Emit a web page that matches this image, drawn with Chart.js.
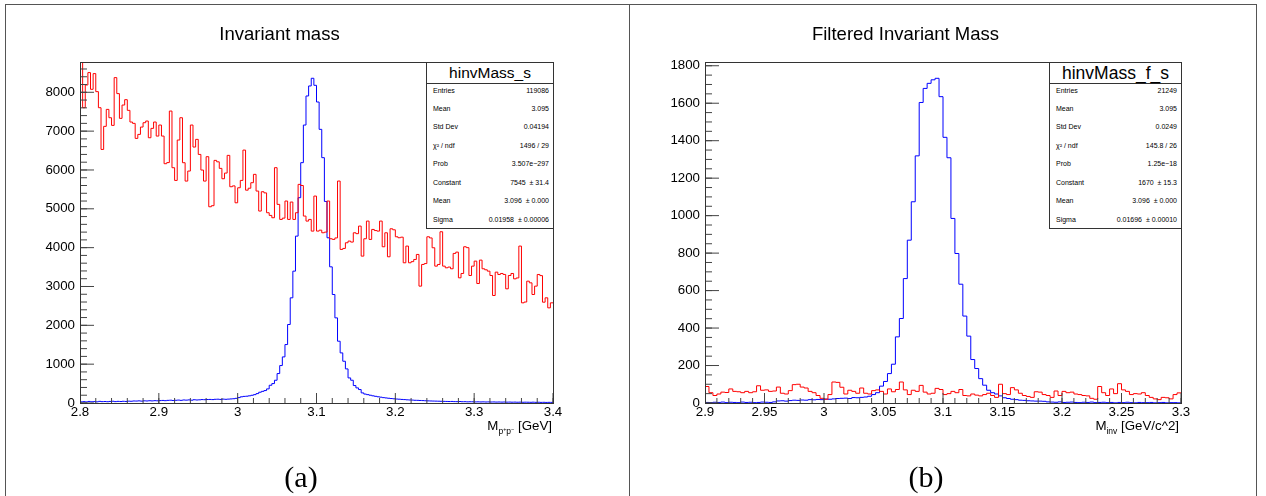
<!DOCTYPE html>
<html><head><meta charset="utf-8">
<script src="https://cdn.jsdelivr.net/npm/chart.js@4.4.1/dist/chart.umd.min.js"></script>
<style>
html,body{margin:0;padding:0;background:#fff;}
#page{position:relative;width:1266px;height:496px;overflow:hidden;font-family:'Liberation Sans',Arial,sans-serif;color:#000;}
.ln{position:absolute;background:#555;}
canvas{position:absolute;}
.stat{position:absolute;background:#fff;border:1px solid #333;box-sizing:border-box;z-index:2;}
.stat .hdr{position:absolute;left:0;right:0;top:0;height:20.5px;border-bottom:1px solid #333;text-align:center;line-height:20px;box-sizing:border-box;}
.stat .rows{position:absolute;left:0;right:0;top:18.6px;}
.stat .row{display:flex;justify-content:space-between;height:18.43px;line-height:18.43px;font-size:7px;padding:0 4px 0 6px;white-space:pre;}
.axt{position:absolute;font-size:13.3px;line-height:16px;white-space:nowrap;z-index:2;}
.axt .sub{font-size:8.5px;position:relative;top:3.5px;}
.axt .sup{font-size:5.5px;position:relative;top:-3px;}
.cap{position:absolute;font-family:'Liberation Serif','Times New Roman',serif;font-size:30px;line-height:30px;z-index:2;transform:translateX(-50%);}
</style></head><body>
<div id="page">
  <div class="ln" style="left:5px;top:4px;width:1252px;height:1px"></div>
  <div class="ln" style="left:5px;top:4px;width:1px;height:492px"></div>
  <div class="ln" style="left:629px;top:4px;width:1px;height:492px"></div>
  <div class="ln" style="left:1256px;top:4px;width:1px;height:492px"></div>
  <canvas id="cA" width="622" height="490" style="left:6px;top:6px;width:622px;height:490px"></canvas>
  <canvas id="cB" width="625" height="490" style="left:630px;top:6px;width:625px;height:490px"></canvas>
  <div class="stat" id="statA" style="left:426px;top:62px;width:128px;height:167px"></div>
  <div class="stat" id="statB" style="left:1049px;top:62px;width:133px;height:167px"></div>
  <div class="axt" style="right:714px;top:418px">M<span class="sub">p<span class="sup">+</span>p<span class="sup">−</span></span> [GeV]</div>
  <div class="axt" style="right:87px;top:418px">M<span class="sub">inv</span> [GeV/c^2]</div>
  <div class="cap" style="left:301px;top:462px">(a)</div>
  <div class="cap" style="left:926px;top:462px">(b)</div>
</div>
<script>
// ---------- data: panel (a) ----------
const xRangeA = [2.8, 3.4];
const yMaxA = 8780;
const xTicksA = [2.8, 2.9, 3, 3.1, 3.2, 3.3, 3.4];
const yTicksA = [0, 1000, 2000, 3000, 4000, 5000, 6000, 7000, 8000];
const titleA = 'Invariant mass';
const redA = [9000,7603,8189,8507,8077,8481,8017,7603,6529,7123,
 7560,7345,7148,8378,7966,7329,7672,7810,7535,7234,
 7200,6813,6916,7105,7217,7260,6830,7071,7234,6873,
 7157,6873,6161,6190,7517,6058,5731,6771,7345,6187,
 5714,5972,7157,6590,6788,6400,5998,5714,6342,5053,
 5080,6247,6210,6041,5774,5920,6376,5568,5590,5155,
 5542,5731,6512,5480,5530,5672,5887,5457,4942,5440,
 5410,4899,4830,4770,6059,5114,4727,4760,5200,4727,
 5174,4727,4899,5629,5600,4813,4684,4727,4426,5328,
 4426,4450,4383,4400,5200,4229,4212,4250,5715,3954,
 3980,4126,4169,4143,4383,4360,4555,3782,4229,4684,
 4212,4469,4440,4426,4684,4023,4383,3765,4486,4460,
 4280,4255,4270,3610,4040,3610,3640,3696,3825,3009,
 3567,3590,4280,4250,3997,3524,3567,4409,3524,3481,
 3500,3456,3851,3885,3223,3335,4023,4000,3283,3524,
 3653,3077,3679,3456,3430,3395,3283,2768,3369,3309,
 3335,3310,2940,3283,3335,3197,3220,4040,2579,2600,
 3137,3094,2794,3009,3309,3280,2596,2708,2450,2579];
const blueA = [30,35,28,40,32,36,30,42,35,38,33,40,45,36,42,38,44,40,
 48,45,52,50,55,48,56,52,58,54,60,57,
 62,66,60,68,72,65,70,75,68,78,74,80,72,84,78,82,88,85,90,
 92,88,95,98,92,100,
 95,100,105,110,120,140,160,170,175,185,199,
 215,242,277,300,320,363,457,500,586,758,964,1187,1505,2021,2708,3395,4297,5286,6188,7157,7905,8163,8361,
 8180,7750,7046,6317,5190,4254,3506,2794,2192,1591,1290,1075,878,646,586,449,389,346,260,
 230,215,200,185,172,160,150,138,130,122,115,108,
 102,98,92,88,82,78,75,70,68,65,
 62,58,55,52,50,48,46,44,42,40,
 38,40,36,35,38,33,34,30,32,31,
 28,30,27,29,26,28,25,27,24,26,
 23,25,22,24,21,23,20,22,19,21,
 20,18,21,17,19,16,18,15,17,16];
const statNameA = 'hinvMass_s';
const statLabelsA = ['Entries','Mean','Std Dev','χ² / ndf','Prob','Constant','Mean','Sigma'];
const statValuesA = ['119086','3.095','0.04194','1496 / 29','3.507e−297','7545  ± 31.4','3.096  ± 0.000','0.01958  ± 0.00006'];

// ---------- data: panel (b) ----------
const xRangeB = [2.9, 3.3];
const yMaxB = 1820;
const xTicksB = [2.9, 2.95, 3, 3.05, 3.1, 3.15, 3.2, 3.25, 3.3];
const yTicksB = [0, 200, 400, 600, 800, 1000, 1200, 1400, 1600, 1800];
const titleB = 'Filtered Invariant Mass';
const redB = [88,55,40,48,58,56,75,62,60,55,
 62,55,60,92,68,70,62,64,85,52,
 48,66,98,100,85,80,62,55,40,25,
 20,45,112,110,84,48,68,62,52,80,
 52,48,66,70,62,48,75,60,72,112,
 70,45,68,62,94,58,48,52,78,72,
 45,50,62,55,72,40,38,48,42,38,
 45,52,40,30,100,50,45,82,70,52,
 40,35,30,60,58,45,40,30,64,40,
 62,55,58,48,45,40,38,25,20,88,
 55,40,75,50,103,70,62,45,50,48,
 55,40,30,22,18,30,28,22,45,54];
const blueB = [3,2,4,3,5,2,4,3,2,5,3,4,2,3,5,4,3,6,
 11,12,10,13,15,14,16,15,18,17,19,18,21,20,22,24,25,26,24,29,28,30,
 32,36,45,55,90,
 115,157,207,353,451,664,869,1074,1319,1604,1679,1706,1725,1733,
 1635,1418,1309,985,798,634,464,357,232,184,130,95,68,
 55,48,38,28,24,20,18,15,14,12,11,10,10,9,6,
 5,4,6,3,4,5,3,2,4,3,5,2,3,4,2,3,1,3,2,4,2,1,3,2,2,3,1,2,3,1,2,2,1];
const statNameB = 'hinvMass_f_s';
const statLabelsB = ['Entries','Mean','Std Dev','χ² / ndf','Prob','Constant','Mean','Sigma'];
const statValuesB = ['21249','3.095','0.0249','145.8 / 26','1.25e−18','1670  ± 15.3','3.096  ± 0.000','0.01696  ± 0.00010'];

// ---------- helpers ----------
function histPoints(vals, range) {
  const w = (range[1] - range[0]) / vals.length;
  const pts = vals.map((v, i) => ({x: range[0] + i * w, y: v}));
  pts.push({x: range[1], y: vals[vals.length - 1]});
  return pts;
}
function minorValues(min, max, step) {
  const out = [];
  const n = Math.floor((max - min) / step + 1e-9);
  for (let i = 0; i <= n; i++) out.push(min + i * step);
  return out;
}
function buildStat(id, name, labels, values, hdrSize) {
  const box = document.getElementById(id);
  const hdr = document.createElement('div');
  hdr.className = 'hdr'; hdr.style.fontSize = hdrSize + 'px'; hdr.textContent = name;
  box.appendChild(hdr);
  const rows = document.createElement('div'); rows.className = 'rows';
  labels.forEach((l, i) => {
    const r = document.createElement('div'); r.className = 'row';
    const a = document.createElement('span'); a.textContent = l;
    const b = document.createElement('span'); b.textContent = values[i];
    r.appendChild(a); r.appendChild(b); rows.appendChild(r);
  });
  box.appendChild(rows);
}
buildStat('statA', statNameA, statLabelsA, statValuesA, 15.5);
buildStat('statB', statNameB, statLabelsB, statValuesB, 17.5);

// frame around the plot area
const framePlugin = {
  id: 'rootFrame',
  afterDraw(chart) {
    const {ctx, chartArea: a} = chart;
    const L = Math.floor(a.left), R = Math.floor(a.right);
    const T = Math.floor(a.top), B = Math.floor(a.bottom);
    ctx.save();
    ctx.fillStyle = '#333';
    ctx.fillRect(L, T, R - L + 1, 1);
    ctx.fillRect(L, B, R - L + 1, 1);
    ctx.fillRect(L, T, 1, B - T + 1);
    ctx.fillRect(R, T, 1, B - T + 1);
    ctx.restore();
  }
};

// inward ROOT-style tick marks, placed through the chart's scales as line-shaped points,
// clipped to the plot area so only the inner half shows
function tickSet(points, rotation, radius) {
  return {data: points, showLine: false, pointStyle: 'line', pointRotation: rotation,
    pointRadius: radius, pointHoverRadius: radius, pointBorderColor: '#444', pointBorderWidth: 1,
    borderColor: '#444', borderWidth: 1, clip: 0, xAxisID: 'x', yAxisID: 'y'};
}

function makeChart(id, cfg) {
  const font = {family: "'Liberation Sans', Arial, sans-serif", size: 13.3};
  const x0 = cfg.xRange[0];
  const xMinorPts = minorValues(cfg.xRange[0], cfg.xRange[1], cfg.xMinor).map(v => ({x: v, y: 0}));
  const yMinorPts = minorValues(0, cfg.yMax, cfg.yMinor).map(v => ({x: x0, y: v}));
  return new Chart(document.getElementById(id), {
    type: 'line',
    data: {datasets: [
      tickSet(cfg.xTicks.map(v => ({x: v, y: 0})), 90, 10),
      tickSet(xMinorPts, 90, 5),
      tickSet(cfg.yTicks.map(v => ({x: x0, y: v})), 0, 14),
      tickSet(yMinorPts, 0, 7),
      {data: histPoints(cfg.red, cfg.xRange), borderColor: '#ff0000', borderWidth: 1, pointRadius: 0, stepped: true, fill: false, tension: 0, xAxisID: 'x', yAxisID: 'y'},
      {data: histPoints(cfg.blue, cfg.xRange), borderColor: '#0000ff', borderWidth: 1, pointRadius: 0, stepped: true, fill: false, tension: 0, xAxisID: 'x', yAxisID: 'y'}
    ]},
    options: {
      responsive: false, animation: false, devicePixelRatio: 1,
      layout: {padding: {left: 0, right: cfg.padRight, top: 0, bottom: 0}},
      plugins: {
        legend: {display: false}, tooltip: {enabled: false},
        title: {display: true, text: cfg.title, color: '#000',
          font: {family: "'Liberation Sans', Arial, sans-serif", size: 18.5, weight: 'normal', lineHeight: 1.2},
          padding: {top: 18.2, bottom: 15.6}}
      },
      scales: {
        x: {type: 'linear', position: 'bottom', min: cfg.xRange[0], max: cfg.xRange[1],
          afterBuildTicks: s => { s.ticks = cfg.xTicks.map(v => ({value: v})); },
          afterFit: s => { s.height = 93; },
          ticks: {callback: v => String(v), color: '#000', font: font, padding: 1.5, maxRotation: 0, autoSkip: false},
          grid: {display: false, drawTicks: false}, border: {display: false}},
        y: {type: 'linear', position: 'left', min: 0, max: cfg.yMax,
          afterBuildTicks: s => { s.ticks = cfg.yTicks.map(v => ({value: v})); },
          afterFit: s => { s.width = cfg.yWidth; },
          ticks: {callback: v => String(v), color: '#000', font: font, padding: 5, autoSkip: false},
          grid: {display: false, drawTicks: false}, border: {display: false}}
      }
    },
    plugins: [framePlugin]
  });
}

makeChart('cA', {red: redA, blue: blueA, xRange: xRangeA, yMax: yMaxA, xTicks: xTicksA, yTicks: yTicksA,
  title: titleA, padRight: 75, yWidth: 74, xMinor: 0.02, yMinor: 200});
makeChart('cB', {red: redB, blue: blueB, xRange: xRangeB, yMax: yMaxB, xTicks: xTicksB, yTicks: yTicksB,
  title: titleB, padRight: 74, yWidth: 75, xMinor: 0.01, yMinor: 50});
</script>
</body></html>
